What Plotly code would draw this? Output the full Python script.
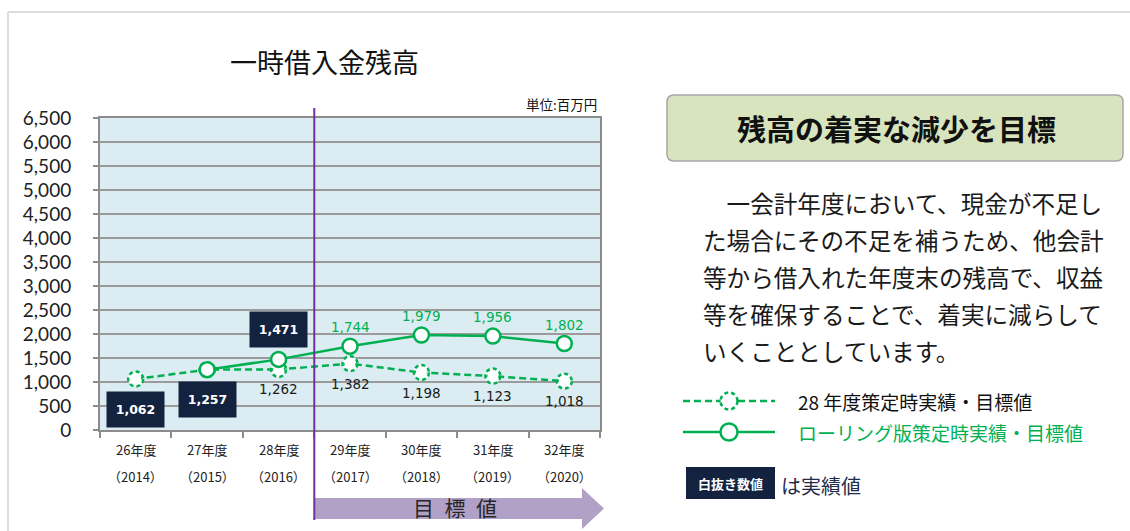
import plotly.graph_objects as go

# ---------------- data ----------------
categories = ["26年度", "27年度", "28年度", "29年度", "30年度", "31年度", "32年度"]
fiscal_years = ["（2014）", "（2015）", "（2016）", "（2017）", "（2018）", "（2019）", "（2020）"]
plan_2016 = [1062, 1257, 1262, 1382, 1198, 1123, 1018]          # 28年度策定時実績・目標値
rolling = [None, 1257, 1471, 1744, 1979, 1956, 1802]             # ローリング版策定時実績・目標値
plan_is_actual = [True, True, False, False, False, False, False]
rolling_is_actual = [False, True, True, False, False, False, False]
rolling_labeled = [False, False, True, True, True, True, True]
y_ticks = [0, 500, 1000, 1500, 2000, 2500, 3000, 3500, 4000, 4500, 5000, 5500, 6000, 6500]
target_start = 2.5  # boundary between 28年度 and 29年度

# ---------------- style ----------------
W, H = 1130, 531
L, R, T, B = 100, 530, 118, 101
PW, PH = W - L - R, H - T - B
GREEN = "#00b050"
NAVY = "#13233f"
JP = "Noto Sans CJK JP"
NUM = "DejaVu Sans"


def px(x):
    return (x - L) / PW


def py(y):
    return (H - B - y) / PH


fig = go.Figure()

# dashed line of the 28年度 plan
fig.add_trace(go.Scatter(x=categories, y=plan_2016, mode="lines",
                         line=dict(color=GREEN, width=2.5, dash="7px,4px"),
                         hoverinfo="skip", showlegend=False))
# white cover inside dashed circles
fig.add_trace(go.Scatter(x=categories, y=plan_2016, mode="markers",
                         marker=dict(size=11, color="white", line=dict(width=0)),
                         hoverinfo="skip", showlegend=False))
# rolling plan line
fig.add_trace(go.Scatter(x=categories, y=rolling, mode="lines+markers",
                         line=dict(color=GREEN, width=2.5),
                         marker=dict(size=15, color="white", line=dict(color=GREEN, width=2.5)),
                         hoverinfo="skip", showlegend=False))

shapes = []
annotations = []


def note(x, y, text, size, color, family=JP, xanchor="center", xref="paper", yref="paper", **kw):
    annotations.append(dict(x=x, y=y, xref=xref, yref=yref, text=text, showarrow=False,
                            xanchor=xanchor, yanchor="middle",
                            font=dict(family=family, size=size, color=color), **kw))


# dashed circle markers for the plan series (anchored to data)
for i, v in enumerate(plan_2016):
    shapes.append(dict(type="circle", xref="x", yref="y", xsizemode="pixel", ysizemode="pixel",
                       xanchor=i, yanchor=v, x0=-7.5, x1=7.5, y0=-7.5, y1=7.5,
                       line=dict(color=GREEN, width=2.5, dash="4px,3px"),
                       fillcolor="white", layer="between"))

# data labels
for i, v in enumerate(plan_2016):
    if plan_is_actual[i]:
        note(categories[i], v, f"<b>{v:,}</b>", 12.5, "white", family=NUM, xref="x", yref="y",
             yshift=-30, bgcolor=NAVY, width=53, height=31, borderpad=2)
    else:
        note(categories[i], v, f"{v:,}", 13.5, "#1a1a1a", family=NUM, xref="x", yref="y", yshift=-20)
for i, v in enumerate(rolling):
    if v is None or not rolling_labeled[i]:
        continue
    if rolling_is_actual[i]:
        note(categories[i], v, f"<b>{v:,}</b>", 12.5, "white", family=NUM, xref="x", yref="y",
             yshift=30, bgcolor=NAVY, width=53, height=31, borderpad=2)
    else:
        note(categories[i], v, f"{v:,}", 13.5, GREEN, family=NUM, xref="x", yref="y", yshift=19)

# x category labels (two rows)
for c, fy in zip(categories, fiscal_years):
    note(c, py(449), c, 13, "#222", xref="x")
    note(c, py(476), fy, 13, "#222", xref="x")

# target arrow
ax0, ax1, atip = px(314), px(582), px(604)
ab0, ab1 = py(519), py(498)
ah0, ah1, amid = py(529), py(488), py(508.5)
shapes.append(dict(type="path", xref="paper", yref="paper",
                   path=f"M {ax0},{ab0} L {ax1},{ab0} L {ax1},{ah0} L {atip},{amid} "
                        f"L {ax1},{ah1} L {ax1},{ab1} L {ax0},{ab1} Z",
                   fillcolor="#b2a1c7", line=dict(width=0), layer="above"))
note(px(455), py(507), "目\u2002標\u2002値", 21, "#262626")
# vertical target line
shapes.append(dict(type="line", xref="x", yref="paper", x0=target_start, x1=target_start,
                   y0=py(520), y1=py(108), line=dict(color="#7030a0", width=2), layer="above"))

# page border
shapes.append(dict(type="line", xref="paper", yref="paper", x0=px(8), x1=px(1130), y0=py(12), y1=py(12),
                   line=dict(color="#dcdcdc", width=2)))
shapes.append(dict(type="line", xref="paper", yref="paper", x0=px(8), x1=px(8), y0=py(12), y1=py(531),
                   line=dict(color="#dcdcdc", width=2)))

# titles
note(px(324), py(62), "一時借入金残高", 27, "#111")
note(px(599), py(104), "単位:百万円", 13.5, "#111", xanchor="right")


# right panel: rounded title box
def rrect(x0, y0, x1, y1, r):
    rx, ry = r / PW, r / PH
    X0, X1, Y0, Y1 = px(x0), px(x1), py(y1), py(y0)
    return (f"M {X0+rx},{Y0} L {X1-rx},{Y0} Q {X1},{Y0} {X1},{Y0+ry} L {X1},{Y1-ry} "
            f"Q {X1},{Y1} {X1-rx},{Y1} L {X0+rx},{Y1} Q {X0},{Y1} {X0},{Y1-ry} "
            f"L {X0},{Y0+ry} Q {X0},{Y0} {X0+rx},{Y0} Z")


shapes.append(dict(type="path", xref="paper", yref="paper", path=rrect(667, 95, 1123, 161, 7),
                   fillcolor="#d7e4bd", line=dict(color="#a6a6a6", width=1.5)))
note(px(896), py(128), "<b>残高の着実な減少を目標</b>", 29, "#111")

para = ["\u3000一会計年度において、現金が不足し",
        "た場合にその不足を補うため、他会計",
        "等から借入れた年度末の残高で、収益",
        "等を確保することで、着実に減らして",
        "いくこととしています。"]
for k, line in enumerate(para):
    note(px(701), py(203 + 37 * k), line, 23.6, "#1a1a1a", xanchor="left")

# legend samples
for yy, dash, label, col in [(401, "7px,4px", "28 年度策定時実績・目標値", "#111"),
                             (432, "solid", "ローリング版策定時実績・目標値", GREEN)]:
    shapes.append(dict(type="line", xref="paper", yref="paper", x0=px(683), x1=px(775),
                       y0=py(yy), y1=py(yy), line=dict(color=GREEN, width=2.5, dash=dash)))
    shapes.append(dict(type="circle", xref="paper", yref="paper", xsizemode="pixel", ysizemode="pixel",
                       xanchor=px(729), yanchor=py(yy), x0=-8.5, x1=8.5, y0=-8.5, y1=8.5,
                       line=dict(color=GREEN, width=2.5, dash="4px,3px" if dash != "solid" else "solid"),
                       fillcolor="white"))
    note(px(796), py(yy), label, 19, col, xanchor="left")

shapes.append(dict(type="rect", xref="paper", yref="paper", x0=px(686), x1=px(775), y0=py(499), y1=py(467),
                   fillcolor=NAVY, line=dict(width=0)))
note(px(730.5), py(483), "<b>白抜き数値</b>", 13, "white")
note(px(779), py(485), "は実績値", 20, "#1f2d4a", xanchor="left")

fig.update_layout(
    width=W, height=H, autosize=False,
    margin=dict(l=L, r=R, t=T, b=B),
    paper_bgcolor="white", plot_bgcolor="#dbedf3",
    shapes=shapes, annotations=annotations, showlegend=False,
    xaxis=dict(type="category", categoryorder="array", categoryarray=categories,
               range=[-0.5, len(categories) - 0.5], tickson="boundaries", ticks="outside",
               ticklen=6, tickwidth=1.5, tickcolor="#8c8c8c", showticklabels=False,
               showgrid=False, showline=True, linecolor="#8c8c8c", linewidth=2, mirror=True,
               zeroline=False, fixedrange=True),
    yaxis=dict(range=[0, 6500], tickvals=y_ticks, ticktext=[f"{v:,}" for v in y_ticks],
               ticks="outside", ticklen=5, tickwidth=1.5, tickcolor="#8c8c8c",
               showgrid=True, gridcolor="#9b9b9b", gridwidth=1.5,
               showline=True, linecolor="#8c8c8c", linewidth=2, mirror=True, zeroline=False,
               tickfont=dict(family="Lato", size=19, color="#222"), ticklabelstandoff=18,
               fixedrange=True),
)

fig.write_html("out.html", config={"displayModeBar": False},
               post_script="document.body.style.margin='0';document.body.style.overflow='hidden';")
